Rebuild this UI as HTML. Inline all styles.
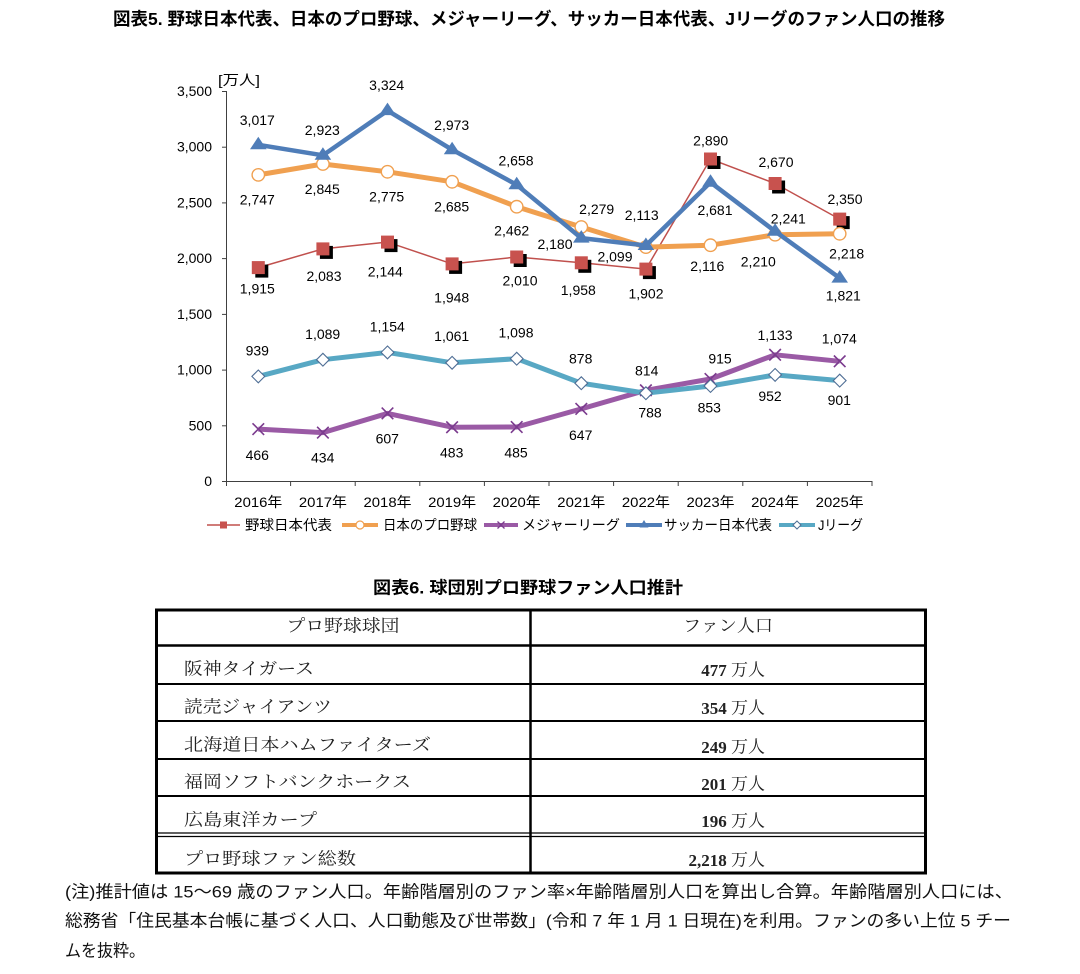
<!DOCTYPE html>
<html><head><meta charset="utf-8"><style>
html,body{margin:0;padding:0;background:#fff;}
svg{display:block;}
.g{font-family:"Liberation Sans","Noto Sans CJK JP",sans-serif;}
.m{font-family:"Liberation Serif","Noto Serif CJK SC",serif;}
</style></head><body>
<svg width="1080" height="974" viewBox="0 0 1080 974" xmlns="http://www.w3.org/2000/svg">
<defs>
<g id="sq"><rect x="-3" y="-3" width="13" height="13" fill="#000"/><rect x="-6.5" y="-6.5" width="13" height="13" fill="#C8524E"/></g>
<circle id="ci" r="6.2" fill="#fff" stroke="#F0A050" stroke-width="1.4"/>
<path id="xm" d="M-5.8,-5.8L5.8,5.8M-5.8,5.8L5.8,-5.8" stroke="#7B3B8E" stroke-width="1.6" fill="none"/>
<path id="tr" d="M0,-8L8.3,4.5L-8.3,4.5Z" fill="#4F7DB8"/>
<path id="di" d="M0,-6.4L6.4,0L0,6.4L-6.4,0Z" fill="#fff" stroke="#4F6E95" stroke-width="1.1"/>
</defs>

<!-- Title -->
<text class="g" x="113" y="19" dominant-baseline="central" font-size="17.5" font-weight="bold" textLength="832" lengthAdjust="spacingAndGlyphs">図表5. 野球日本代表、日本のプロ野球、メジャーリーグ、サッカー日本代表、Jリーグのファン人口の推移</text>

<!-- Axes -->
<g stroke="#404040" stroke-width="1" fill="none">
<line x1="226.5" y1="91" x2="226.5" y2="481.5"/>
<line x1="226" y1="481.5" x2="872.5" y2="481.5"/>
<line x1="222" y1="481.5" x2="226" y2="481.5"/>
<line x1="222" y1="425.8" x2="226" y2="425.8"/>
<line x1="222" y1="370.1" x2="226" y2="370.1"/>
<line x1="222" y1="314.4" x2="226" y2="314.4"/>
<line x1="222" y1="258.6" x2="226" y2="258.6"/>
<line x1="222" y1="202.9" x2="226" y2="202.9"/>
<line x1="222" y1="147.2" x2="226" y2="147.2"/>
<line x1="222" y1="91.5" x2="226" y2="91.5"/>
<line x1="226.5" y1="481" x2="226.5" y2="486"/>
<line x1="290.6" y1="481" x2="290.6" y2="486"/>
<line x1="355.2" y1="481" x2="355.2" y2="486"/>
<line x1="419.8" y1="481" x2="419.8" y2="486"/>
<line x1="484.4" y1="481" x2="484.4" y2="486"/>
<line x1="549" y1="481" x2="549" y2="486"/>
<line x1="613.6" y1="481" x2="613.6" y2="486"/>
<line x1="678.2" y1="481" x2="678.2" y2="486"/>
<line x1="742.8" y1="481" x2="742.8" y2="486"/>
<line x1="807.4" y1="481" x2="807.4" y2="486"/>
<line x1="872" y1="481" x2="872" y2="486"/>
</g>

<g class="g" font-size="14" fill="#000" text-anchor="end" dominant-baseline="central">
<text x="212" y="481">0</text>
<text x="212" y="425.3">500</text>
<text x="212" y="369.6">1,000</text>
<text x="212" y="313.9">1,500</text>
<text x="212" y="258.1">2,000</text>
<text x="212" y="202.4">2,500</text>
<text x="212" y="146.7">3,000</text>
<text x="212" y="91">3,500</text>
</g>
<text class="g" x="218" y="80" font-size="14" dominant-baseline="central" textLength="42" lengthAdjust="spacingAndGlyphs">[万人]</text>

<g class="g" font-size="14" fill="#000" text-anchor="middle" dominant-baseline="central">
<text x="258.3" y="502" textLength="48" lengthAdjust="spacingAndGlyphs">2016年</text>
<text x="322.9" y="502" textLength="48" lengthAdjust="spacingAndGlyphs">2017年</text>
<text x="387.5" y="502" textLength="48" lengthAdjust="spacingAndGlyphs">2018年</text>
<text x="452.1" y="502" textLength="48" lengthAdjust="spacingAndGlyphs">2019年</text>
<text x="516.7" y="502" textLength="48" lengthAdjust="spacingAndGlyphs">2020年</text>
<text x="581.3" y="502" textLength="48" lengthAdjust="spacingAndGlyphs">2021年</text>
<text x="645.9" y="502" textLength="48" lengthAdjust="spacingAndGlyphs">2022年</text>
<text x="710.5" y="502" textLength="48" lengthAdjust="spacingAndGlyphs">2023年</text>
<text x="775.1" y="502" textLength="48" lengthAdjust="spacingAndGlyphs">2024年</text>
<text x="839.7" y="502" textLength="48" lengthAdjust="spacingAndGlyphs">2025年</text>
</g>

<!-- Series: red -->
<polyline fill="none" stroke="#C0504D" stroke-width="1.5" points="258.3,267.6 322.9,248.9 387.5,242.1 452.1,263.9 516.7,257.0 581.3,262.8 645.9,269.1 710.5,159.0 775.1,183.5 839.7,219.1"/>
<use href="#sq" x="258.3" y="267.6"/><use href="#sq" x="322.9" y="248.9"/><use href="#sq" x="387.5" y="242.1"/><use href="#sq" x="452.1" y="263.9"/><use href="#sq" x="516.7" y="257.0"/><use href="#sq" x="581.3" y="262.8"/><use href="#sq" x="645.9" y="269.1"/><use href="#sq" x="710.5" y="159.0"/><use href="#sq" x="775.1" y="183.5"/><use href="#sq" x="839.7" y="219.1"/>

<!-- orange -->
<polyline fill="none" stroke="#F0A050" stroke-width="5" stroke-linejoin="round" points="258.3,174.9 322.9,164.0 387.5,171.8 452.1,181.8 516.7,206.7 581.3,227.0 645.9,247.1 710.5,245.2 775.1,234.7 839.7,233.8"/>
<use href="#ci" x="258.3" y="174.9"/><use href="#ci" x="322.9" y="164.0"/><use href="#ci" x="387.5" y="171.8"/><use href="#ci" x="452.1" y="181.8"/><use href="#ci" x="516.7" y="206.7"/><use href="#ci" x="581.3" y="227.0"/><use href="#ci" x="645.9" y="247.1"/><use href="#ci" x="710.5" y="245.2"/><use href="#ci" x="775.1" y="234.7"/><use href="#ci" x="839.7" y="233.8"/>

<!-- purple -->
<polyline fill="none" stroke="#9A5AA5" stroke-width="5" stroke-linejoin="round" points="258.3,429.1 322.9,432.6 387.5,413.4 452.1,427.2 516.7,427.0 581.3,408.9 645.9,390.3 710.5,379.0 775.1,354.8 839.7,361.3"/>
<use href="#xm" x="258.3" y="429.1"/><use href="#xm" x="322.9" y="432.6"/><use href="#xm" x="387.5" y="413.4"/><use href="#xm" x="452.1" y="427.2"/><use href="#xm" x="516.7" y="427.0"/><use href="#xm" x="581.3" y="408.9"/><use href="#xm" x="645.9" y="390.3"/><use href="#xm" x="710.5" y="379.0"/><use href="#xm" x="775.1" y="354.8"/><use href="#xm" x="839.7" y="361.3"/>

<!-- blue -->
<polyline fill="none" stroke="#4F7DB8" stroke-width="4.5" stroke-linejoin="round" points="258.3,144.8 322.9,155.3 387.5,110.6 452.1,149.7 516.7,184.8 581.3,238.1 645.9,245.5 710.5,182.3 775.1,231.3 839.7,278.1"/>
<use href="#tr" x="258.3" y="144.8"/><use href="#tr" x="322.9" y="155.3"/><use href="#tr" x="387.5" y="110.6"/><use href="#tr" x="452.1" y="149.7"/><use href="#tr" x="516.7" y="184.8"/><use href="#tr" x="581.3" y="238.1"/><use href="#tr" x="645.9" y="245.5"/><use href="#tr" x="710.5" y="182.3"/><use href="#tr" x="775.1" y="231.3"/><use href="#tr" x="839.7" y="278.1"/>

<!-- cyan -->
<polyline fill="none" stroke="#58A8C4" stroke-width="5" stroke-linejoin="round" points="258.3,376.4 322.9,359.7 387.5,352.4 452.1,362.8 516.7,358.7 581.3,383.2 645.9,393.2 710.5,386.0 775.1,374.9 839.7,380.6"/>
<use href="#di" x="258.3" y="376.4"/><use href="#di" x="322.9" y="359.7"/><use href="#di" x="387.5" y="352.4"/><use href="#di" x="452.1" y="362.8"/><use href="#di" x="516.7" y="358.7"/><use href="#di" x="581.3" y="383.2"/><use href="#di" x="645.9" y="393.2"/><use href="#di" x="710.5" y="386.0"/><use href="#di" x="775.1" y="374.9"/><use href="#di" x="839.7" y="380.6"/>

<!-- Data labels -->
<g class="g" font-size="14" fill="#000" text-anchor="middle" dominant-baseline="central">
<text x="257.3" y="120">3,017</text>
<text x="322.3" y="130">2,923</text>
<text x="386.7" y="85">3,324</text>
<text x="451.7" y="125">2,973</text>
<text x="516" y="160.5">2,658</text>
<text x="555" y="244">2,180</text>
<text x="641.7" y="215">2,113</text>
<text x="715" y="210">2,681</text>
<text x="788.3" y="218.3">2,241</text>
<text x="843.3" y="295.7">1,821</text>

<text x="257.3" y="199.3">2,747</text>
<text x="322.3" y="189">2,845</text>
<text x="386.7" y="196.7">2,775</text>
<text x="451.7" y="206.7">2,685</text>
<text x="511.7" y="230.7">2,462</text>
<text x="596.7" y="209">2,279</text>
<text x="615" y="256.7">2,099</text>
<text x="707.3" y="266">2,116</text>
<text x="758.3" y="261.7">2,210</text>
<text x="846.7" y="253.3">2,218</text>

<text x="257.3" y="288.3">1,915</text>
<text x="324" y="276">2,083</text>
<text x="385.3" y="271.7">2,144</text>
<text x="451.7" y="297.3">1,948</text>
<text x="520" y="280.7">2,010</text>
<text x="578.3" y="290">1,958</text>
<text x="646" y="293.3">1,902</text>
<text x="710.7" y="140.7">2,890</text>
<text x="776" y="162">2,670</text>
<text x="845" y="199">2,350</text>

<text x="257.3" y="455">466</text>
<text x="322.7" y="457.3">434</text>
<text x="387.3" y="438.3">607</text>
<text x="451.7" y="452.7">483</text>
<text x="516" y="452.7">485</text>
<text x="580.7" y="435">647</text>
<text x="646.7" y="370.7">814</text>
<text x="720" y="358.3">915</text>
<text x="775" y="335">1,133</text>
<text x="839.3" y="338.3">1,074</text>

<text x="257.3" y="350.7">939</text>
<text x="322.7" y="334">1,089</text>
<text x="387.3" y="326.7">1,154</text>
<text x="451.7" y="336">1,061</text>
<text x="516" y="332.7">1,098</text>
<text x="580.7" y="358.3">878</text>
<text x="650" y="412.7">788</text>
<text x="709.3" y="407.7">853</text>
<text x="770" y="396">952</text>
<text x="839.3" y="400">901</text>
</g>

<!-- Legend -->
<g>
<line x1="207" y1="525" x2="240" y2="525" stroke="#C0504D" stroke-width="1.5"/>
<rect x="220" y="521.5" width="7" height="7" fill="#C8524E"/>
<line x1="342" y1="525" x2="378" y2="525" stroke="#F0A050" stroke-width="4"/>
<circle cx="360" cy="525" r="4" fill="#fff" stroke="#F0A050" stroke-width="1.2"/>
<line x1="484" y1="525" x2="518" y2="525" stroke="#9A5AA5" stroke-width="4"/>
<path d="M497.5,521.5L504.5,528.5M497.5,528.5L504.5,521.5" stroke="#7B3B8E" stroke-width="1.3"/>
<line x1="626" y1="525" x2="662" y2="525" stroke="#4F7DB8" stroke-width="4"/>
<path d="M644,520L648.5,527.5L639.5,527.5Z" fill="#4F7DB8"/>
<line x1="779" y1="525" x2="815" y2="525" stroke="#58A8C4" stroke-width="4"/>
<path d="M797,521L801,525L797,529L793,525Z" fill="#fff" stroke="#4F6E95" stroke-width="1"/>
</g>
<g class="g" font-size="14" fill="#000" dominant-baseline="central">
<text x="245" y="525" textLength="87" lengthAdjust="spacingAndGlyphs">野球日本代表</text>
<text x="383" y="525" textLength="94" lengthAdjust="spacingAndGlyphs">日本のプロ野球</text>
<text x="522" y="525" textLength="98" lengthAdjust="spacingAndGlyphs">メジャーリーグ</text>
<text x="664" y="525" textLength="108" lengthAdjust="spacingAndGlyphs">サッカー日本代表</text>
<text x="818" y="525" textLength="45" lengthAdjust="spacingAndGlyphs">Jリーグ</text>
</g>

<!-- Table title -->
<text class="g" x="373" y="588" dominant-baseline="central" font-size="17" font-weight="bold" textLength="310" lengthAdjust="spacingAndGlyphs">図表6. 球団別プロ野球ファン人口推計</text>

<!-- Table -->
<g stroke="#000" fill="none">
<rect x="156.5" y="610" width="769" height="263" stroke-width="3"/>
<line x1="530.5" y1="610" x2="530.5" y2="873" stroke-width="2.5"/>
<line x1="156" y1="645.5" x2="926" y2="645.5" stroke-width="2.5"/>
<line x1="156" y1="684" x2="926" y2="684" stroke-width="2"/>
<line x1="156" y1="721" x2="926" y2="721" stroke-width="2"/>
<line x1="156" y1="759" x2="926" y2="759" stroke-width="2"/>
<line x1="156" y1="796" x2="926" y2="796" stroke-width="2"/>
<line x1="156" y1="833" x2="926" y2="833" stroke-width="1.3"/>
<line x1="156" y1="836.5" x2="926" y2="836.5" stroke-width="1.3"/>
</g>
<g class="m" font-size="17" fill="#222" dominant-baseline="central">
<text x="343" y="626" text-anchor="middle" textLength="113" lengthAdjust="spacingAndGlyphs">プロ野球球団</text>
<text x="728" y="626" text-anchor="middle" textLength="90" lengthAdjust="spacingAndGlyphs">ファン人口</text>
<text x="184" y="669" textLength="130" lengthAdjust="spacingAndGlyphs">阪神タイガース</text>
<text x="184" y="707" textLength="148" lengthAdjust="spacingAndGlyphs">読売ジャイアンツ</text>
<text x="184" y="745" textLength="247" lengthAdjust="spacingAndGlyphs">北海道日本ハムファイターズ</text>
<text x="184" y="782" textLength="227" lengthAdjust="spacingAndGlyphs">福岡ソフトバンクホークス</text>
<text x="184" y="820" textLength="133" lengthAdjust="spacingAndGlyphs">広島東洋カープ</text>
<text x="184" y="859" textLength="172" lengthAdjust="spacingAndGlyphs">プロ野球ファン総数</text>
</g>
<g class="m" font-size="17" fill="#222" dominant-baseline="central" text-anchor="end">
<text x="765" y="670"><tspan font-weight="bold">477</tspan> 万人</text>
<text x="765" y="708"><tspan font-weight="bold">354</tspan> 万人</text>
<text x="765" y="747"><tspan font-weight="bold">249</tspan> 万人</text>
<text x="765" y="784"><tspan font-weight="bold">201</tspan> 万人</text>
<text x="765" y="821"><tspan font-weight="bold">196</tspan> 万人</text>
<text x="765" y="860"><tspan font-weight="bold">2,218</tspan> 万人</text>
</g>

<!-- Notes -->
<g class="g" font-size="17" fill="#111" dominant-baseline="central">
<text x="65" y="892" textLength="948" lengthAdjust="spacingAndGlyphs">(注)推計値は 15～69 歳のファン人口。年齢階層別のファン率×年齢階層別人口を算出し合算。年齢階層別人口には、</text>
<text x="65" y="921" textLength="946" lengthAdjust="spacingAndGlyphs">総務省「住民基本台帳に基づく人口、人口動態及び世帯数」(令和 7 年 1 月 1 日現在)を利用。ファンの多い上位 5 チー</text>
<text x="65" y="951" textLength="80" lengthAdjust="spacingAndGlyphs">ムを抜粋。</text>
</g>
</svg>
</body></html>
